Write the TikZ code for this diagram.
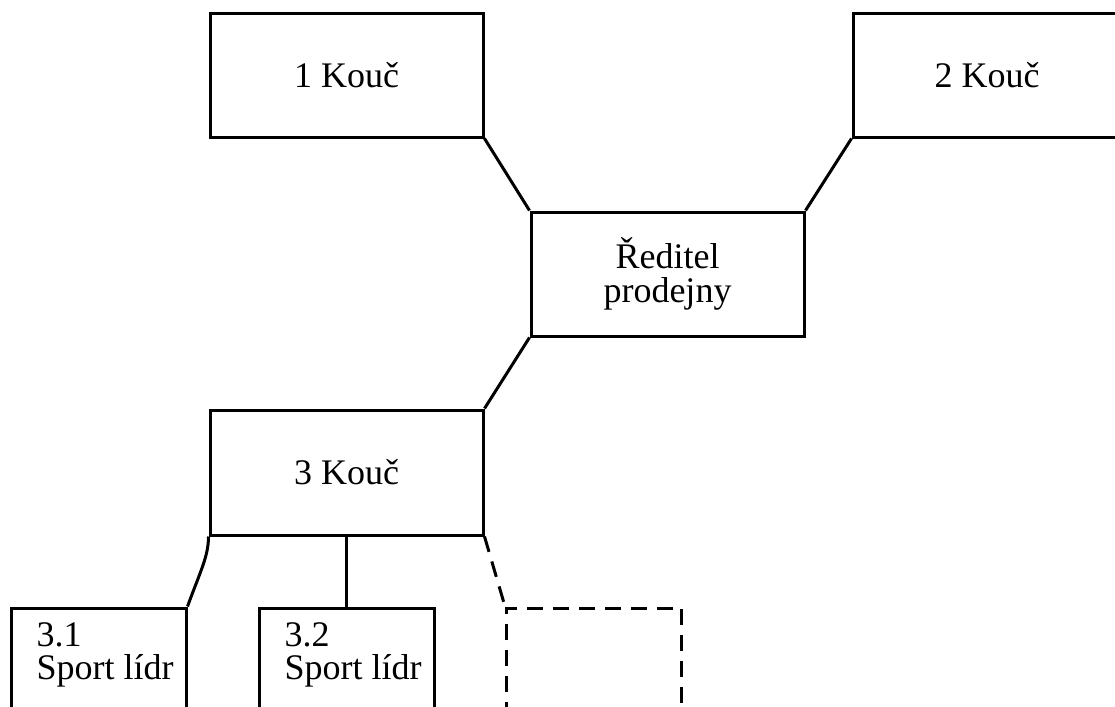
\documentclass[tikz,border=0pt]{standalone}
\usepackage{fontspec}
\setmainfont{Liberation Serif}
\begin{document}
\begin{tikzpicture}[x=1pt,y=-1pt,line width=3pt,line join=miter,
  orgbox/.style={draw,rectangle,inner sep=0pt,align=center,
    minimum width=273pt,minimum height=123pt,
    font=\fontsize{36}{34}\selectfont},
  leaderbox/.style={draw,rectangle,inner sep=0pt,
    minimum width=175pt,minimum height=180pt},
  leadertext/.style={anchor=north west,inner sep=0pt,align=left,
    font=\fontsize{36}{33}\selectfont},
  vacant/.style={dash pattern=on 16pt off 10pt},
  link/.style={draw}]
  \useasboundingbox (0,0) rectangle (1115,706);

  % coaches and the store director
  \node[orgbox] (k1) at (346.5,75.5) {1 Kouč};
  \node[orgbox,minimum width=268pt] (k2) at (987,75.5) {2 Kouč};
  \node[orgbox,minimum height=124pt] (dir) at (667.5,274) {Ředitel\\prodejny};
  \node[orgbox,minimum height=125pt] (k3) at (346.5,472.5) {3 Kouč};

  % sport leaders under coach 3
  \node[leaderbox] (s1) at (98.5,698) {};
  \node[leaderbox] (s2) at (346.5,698) {};
  \node[leaderbox,vacant] (s3) at (594,698) {};
  \node[leadertext] (t1) at (35,621) {3.1\\Sport lídr};
  \node[leadertext] (t2) at (283,621) {3.2\\Sport lídr};

  % reporting lines
  \draw[link] (k1.south east) -- (dir.north west);
  \draw[link] (k2.south west) -- (dir.north east);
  \draw[link] (dir.south west) -- (k3.north east);
  \draw[link] (k3.south west) .. controls ([yshift=-20pt]k3.south west) and (200,572) .. (s1.north east);
  \draw[link] (s2.north) -- (s2.north |- k3.south);
  \draw[link,vacant] (k3.south east) -- (s3.north west);
\end{tikzpicture}
\end{document}
